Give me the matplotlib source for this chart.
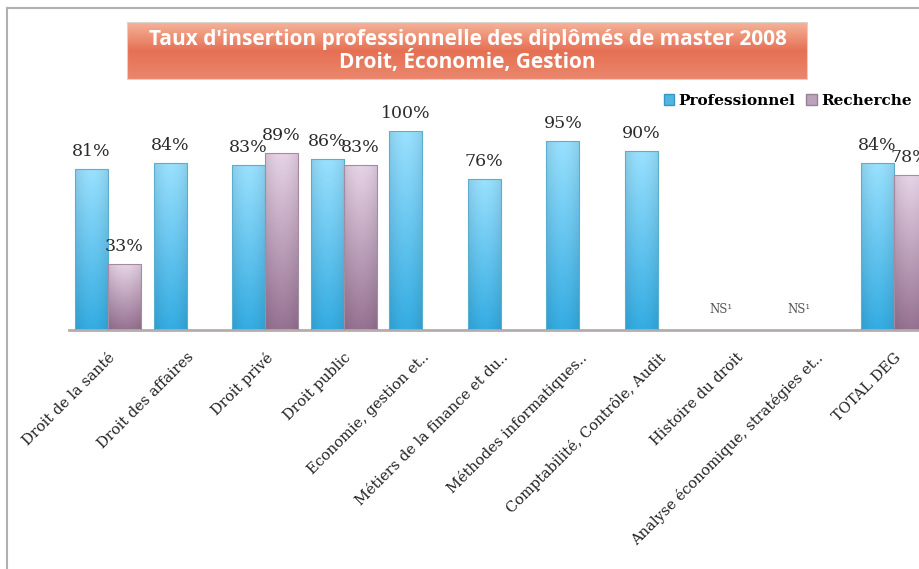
import matplotlib.pyplot as plt
import numpy as np
from matplotlib.patches import Rectangle
from matplotlib.lines import Line2D

categories = [
    "Droit de la santé", "Droit des affaires", "Droit privé", "Droit public",
    "Economie, gestion et..", "Métiers de la finance et du..",
    "Méthodes informatiques..", "Comptabilité, Contrôle, Audit",
    "Histoire du droit", "Analyse économique, stratégies et..", "TOTAL DEG",
]
professionnel = [0.81, 0.84, 0.83, 0.86, 1.00, 0.76, 0.95, 0.90, None, None, 0.84]
recherche = [0.33, None, 0.89, 0.83, None, None, None, None, None, None, 0.78]
ns_categories = [8, 9]

title = "Taux d'insertion professionnelle des diplômés de master 2008\nDroit, Économie, Gestion"
series_names = ["Professionnel", "Recherche"]

W, H = 920, 569
fig = plt.figure(figsize=(W / 100, H / 100), dpi=100)
fig.patch.set_facecolor("white")

# axes positioned in pixels (the right edge runs past the figure, clipped like the source)
left_px, right_px = 68.7, 933.0
base_px, top_px = 330, 131
ax = fig.add_axes([left_px / W, (H - base_px) / H,
                   (right_px - left_px) / W, (base_px - top_px) / H])
ax.patch.set_alpha(0)
for s in ["left", "right", "top"]:
    ax.spines[s].set_visible(False)
ax.spines["bottom"].set_color("#b5adad")
ax.spines["bottom"].set_linewidth(2)
ax.tick_params(left=False, labelleft=False, bottom=False)

bw = 0.42
x = np.arange(len(categories))
serif = ["DejaVu Serif"]


def grad_bar(xc, h, c_top, c_bot, c_edge):
    bar = ax.bar(xc, h, width=bw, color="none", edgecolor=c_edge, linewidth=0.8,
                 zorder=3)[0]
    top = np.array(plt.matplotlib.colors.to_rgb(c_top))
    bot = np.array(plt.matplotlib.colors.to_rgb(c_bot))
    t = np.linspace(0, 1, 64)[:, None]
    col = top[None, :] * (1 - t) + bot[None, :] * t
    horiz = 0.88 + 0.12 * np.sin(np.linspace(0.2, np.pi - 0.2, 32))
    img = np.clip(col[:, None, :] * horiz[None, :, None] + 0.04, 0, 1)
    im = ax.imshow(img, extent=[xc - bw / 2, xc + bw / 2, 0, h], aspect="auto",
                   origin="upper", zorder=2)
    im.set_clip_path(bar)
    return bar


for i, v in enumerate(professionnel):
    if v is None:
        continue
    xc = x[i] - bw / 2
    grad_bar(xc, v, "#8fd6f4", "#2aa2d8", "#5aaed0")
    ax.text(xc, v + 0.045, f"{round(v * 100)}%", ha="center", va="bottom",
            fontsize=12.5, family=serif, color="#2b2b2b")

for i, v in enumerate(recherche):
    if v is None:
        continue
    xc = x[i] + bw / 2
    grad_bar(xc, v, "#dcc9dc", "#8c6888", "#a58aa2")
    ax.text(xc, v + 0.045, f"{round(v * 100)}%", ha="center", va="bottom",
            fontsize=12.5, family=serif, color="#2b2b2b")

for i in ns_categories:
    ax.text(x[i] - 0.2, 0.07, "NS¹", ha="center", va="bottom", fontsize=8.5,
            family=serif, color="#555555")

ax.set_xticks(x)
ax.set_xticklabels(categories, rotation=45, ha="right", rotation_mode="anchor",
                   fontsize=10.5, family=serif, color="#222222")
ax.tick_params(axis="x", pad=11)
ax.set_xlim(-0.5, len(categories) - 0.5)
ax.set_ylim(0, 1.0)

# legend
handles = [Rectangle((0, 0), 1, 1, facecolor="#4fb6e3", edgecolor="#3a95c0"),
           Rectangle((0, 0), 1, 1, facecolor="#bba3bb", edgecolor="#9a7f98")]
fig.legend(handles, series_names, loc="center right",
           bbox_to_anchor=(926 / W, 1 - 101 / H), ncol=2, frameon=False,
           prop={"family": serif, "weight": "bold", "size": 11},
           handlelength=0.7, handleheight=0.7, handletextpad=0.3,
           columnspacing=0.7)

# title box
bx0, bx1, by0, by1 = 127 / W, 808 / W, 1 - 80 / H, 1 - 22 / H
tax = fig.add_axes([bx0, by0, bx1 - bx0, by1 - by0])
tax.set_axis_off()
tg = np.linspace(0, 1, 64)
c_top = np.array([0.96, 0.70, 0.60])
c_mid = np.array([0.90, 0.44, 0.33])
prof = np.where(tg < 0.5, tg / 0.5, 1 - (tg - 0.5) / 0.5 * 0.35)
tim = c_top[None, :] * (1 - prof[:, None]) + c_mid[None, :] * prof[:, None]
tax.imshow(tim[:, None, :], extent=[0, 1, 0, 1], aspect="auto")
tax.add_patch(Rectangle((0, 0), 1, 1, fill=False, edgecolor="#d9d3d0", lw=1.5,
                        transform=tax.transAxes))
tax.text(0.5, 0.5, title, ha="center", va="center", color="white",
         fontsize=15, fontweight="bold", family=["Open Sans"], linespacing=1.0,
         transform=tax.transAxes)

# outer frame lines
fig.add_artist(Line2D([7 / W, 7 / W], [0, 1 - 8 / H], color="#b0b0b0", lw=1.5))
fig.add_artist(Line2D([7 / W, 1], [1 - 8 / H, 1 - 8 / H], color="#b0b0b0", lw=1.5))

fig.savefig("out.png", dpi=100)
